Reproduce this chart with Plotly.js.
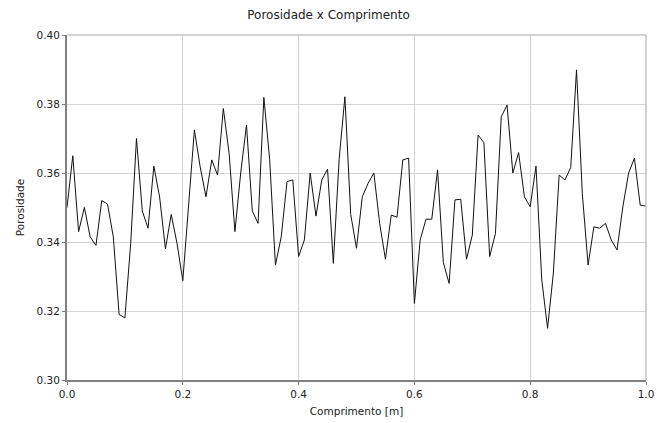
<!DOCTYPE html>
<html>
<head>
<meta charset="utf-8">
<script src="https://cdn.plot.ly/plotly-3.0.1.min.js"></script>
<style>html,body{margin:0;padding:0;background:#fff;}#chart{width:657px;height:423px;}</style>
</head>
<body>
<div id="chart"></div>
<script>
// Comprimento [m]: 101 points from 0.00 to 1.00 in steps of 0.01
const comprimento = [
  0.00,0.01,0.02,0.03,0.04,0.05,0.06,0.07,0.08,0.09,
  0.10,0.11,0.12,0.13,0.14,0.15,0.16,0.17,0.18,0.19,
  0.20,0.21,0.22,0.23,0.24,0.25,0.26,0.27,0.28,0.29,
  0.30,0.31,0.32,0.33,0.34,0.35,0.36,0.37,0.38,0.39,
  0.40,0.41,0.42,0.43,0.44,0.45,0.46,0.47,0.48,0.49,
  0.50,0.51,0.52,0.53,0.54,0.55,0.56,0.57,0.58,0.59,
  0.60,0.61,0.62,0.63,0.64,0.65,0.66,0.67,0.68,0.69,
  0.70,0.71,0.72,0.73,0.74,0.75,0.76,0.77,0.78,0.79,
  0.80,0.81,0.82,0.83,0.84,0.85,0.86,0.87,0.88,0.89,
  0.90,0.91,0.92,0.93,0.94,0.95,0.96,0.97,0.98,0.99,
  1.00
];
const porosidade = [
  0.350,0.365,0.343,0.350,0.3415,0.339,0.352,0.351,0.3415,0.319,
  0.318,0.3396,0.370,0.349,0.344,0.362,0.353,0.338,0.348,0.3396,
  0.3288,0.350,0.3725,0.3618,0.3531,0.3638,0.3594,0.3787,0.3657,0.343,
  0.360,0.3739,0.349,0.3454,0.3819,0.364,0.3333,0.3415,0.3575,0.358,
  0.3358,0.3406,0.360,0.3475,0.358,0.3611,0.3338,0.364,0.3821,0.348,
  0.3382,0.3531,0.357,0.360,0.3454,0.335,0.3478,0.3472,0.3638,0.3643,
  0.3222,0.3406,0.3466,0.3466,0.3609,0.334,0.328,0.3522,0.3524,0.335,
  0.342,0.371,0.3688,0.3358,0.3425,0.3763,0.3797,0.360,0.3659,0.3531,
  0.3502,0.362,0.329,0.315,0.331,0.3594,0.358,0.3616,0.3899,0.3541,
  0.3333,0.3444,0.344,0.3454,0.3406,0.3377,0.3502,0.360,0.3643,0.3507,
  0.3504
];
const xTickVals = [0.0,0.2,0.4,0.6,0.8,1.0];
const xTickText = ["0.0","0.2","0.4","0.6","0.8","1.0"];
const yTickVals = [0.30,0.32,0.34,0.36,0.38,0.40];
const yTickText = ["0.30","0.32","0.34","0.36","0.38","0.40"];

const trace = {
  x: comprimento, y: porosidade, type: 'scatter', mode: 'lines',
  line: {color: '#111111', width: 1}, hoverinfo: 'skip'
};
const layout = {
  width: 657, height: 423,
  margin: {l: 67, r: 11, t: 35, b: 43, pad: 0},
  paper_bgcolor: '#ffffff', plot_bgcolor: '#ffffff',
  font: {family: 'DejaVu Sans, sans-serif', color: '#222222', size: 10},
  showlegend: false,
  title: {text: 'Porosidade x Comprimento', font: {size: 12, color: '#222222'}, x: 0.5, xanchor: 'center', y: 0.975, yanchor: 'top'},
  xaxis: {
    range: [0, 1], tickvals: xTickVals, ticktext: xTickText,
    showgrid: true, gridcolor: '#d4d4d4', gridwidth: 1,
    zeroline: false, showline: true, linecolor: '#808080', linewidth: 2,
    ticks: 'outside', ticklen: 3, tickcolor: '#808080', tickwidth: 1,
    tickfont: {size: 10.5}, automargin: false,
    title: {text: 'Comprimento [m]', font: {size: 10.5}, standoff: 9}
  },
  yaxis: {
    range: [0.30, 0.40], tickvals: yTickVals, ticktext: yTickText,
    showgrid: true, gridcolor: '#d4d4d4', gridwidth: 1,
    zeroline: false, showline: true, linecolor: '#808080', linewidth: 2,
    ticks: 'outside', ticklen: 3, tickcolor: '#808080', tickwidth: 1,
    tickfont: {size: 10.5}, automargin: false,
    title: {text: 'Porosidade', font: {size: 10.5}, standoff: 10}
  },
  shapes: [
    {type: 'line', xref: 'paper', yref: 'paper', x0: 0, x1: 1, y0: 1, y1: 1, line: {color: '#c4c4c4', width: 1.5}},
    {type: 'line', xref: 'paper', yref: 'paper', x0: 1, x1: 1, y0: 0, y1: 1, line: {color: '#c4c4c4', width: 1.5}}
  ]
};
Plotly.newPlot('chart', [trace], layout, {displayModeBar: false, staticPlot: true});
</script>
</body>
</html>
